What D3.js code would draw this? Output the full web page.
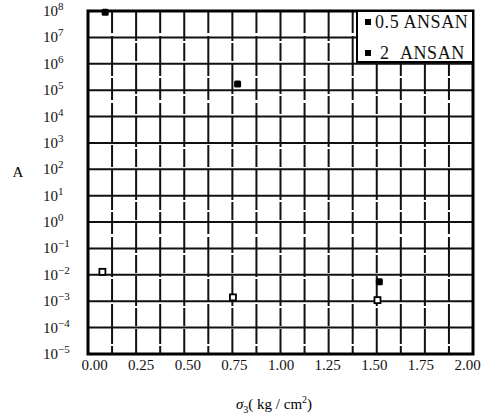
<!DOCTYPE html>
<html>
<head>
<meta charset="utf-8">
<script src="https://cdn.jsdelivr.net/npm/d3@7"></script>
<style>
  body { margin: 0; background: #fff; }
  svg { display: block; font-family: "Liberation Serif", "DejaVu Serif", serif; }
</style>
</head>
<body>
<svg id="chart" width="493" height="417"></svg>
<script>
// data
const xTicks = [0, 0.25, 0.5, 0.75, 1.0, 1.25, 1.5, 1.75, 2.0];
const yExponents = [8, 7, 6, 5, 4, 3, 2, 1, 0, -1, -2, -3, -4, -5];
const seriesNames = ['0.5 ANSAN', '\u00a02\u00a0\u00a0ANSAN'];
const sigmaHalf = [0.06, 0.77, 1.53];
const valuesHalf = [9e7, 1.7e5, 5.5e-3];
const sigmaTwo = [0.045, 0.745, 1.52];
const valuesTwo = [1.3e-2, 1.4e-3, 1.1e-3];

const svg = d3.select('#chart');
const plotLeft = 88, plotRight = 473, plotTop = 11, plotBottom = 354;

const x = d3.scaleLinear().domain([0, 2]).range([94, 467]);
const y = d3.scaleLog().domain([1e-5, 1e8]).range([plotBottom, plotTop]);
// the printed grid has 16 columns that do not line up with the tick labels
const gridX = d3.scaleLinear().domain([0, 16]).range([plotLeft, plotRight]);

const g = svg.append('g');

// vertical grid
g.selectAll('.vgrid')
  .data(d3.range(1, 16))
  .join('line')
  .attr('class', 'vgrid')
  .attr('x1', d => gridX(d)).attr('x2', d => gridX(d))
  .attr('y1', plotTop).attr('y2', plotBottom)
  .attr('stroke', '#111').attr('stroke-width', 2)
  .attr('stroke-dasharray', (d, i) => i % 2 ? '30,2,18,3' : '22,3,40,2');

// horizontal grid
g.selectAll('.hgrid')
  .data(yExponents.slice(1, -1))
  .join('line')
  .attr('class', 'hgrid')
  .attr('x1', plotLeft).attr('x2', plotRight)
  .attr('y1', d => y(Math.pow(10, d))).attr('y2', d => y(Math.pow(10, d)))
  .attr('stroke', '#111').attr('stroke-width', 2);

// frame
g.append('rect')
  .attr('x', plotLeft).attr('y', plotTop)
  .attr('width', plotRight - plotLeft).attr('height', plotBottom - plotTop)
  .attr('fill', 'none').attr('stroke', '#000').attr('stroke-width', 3);

// y axis labels (10 with superscript)
const yLab = svg.selectAll('.ylab')
  .data(yExponents)
  .join('text')
  .attr('class', 'ylab')
  .attr('x', 43)
  .attr('y', d => y(Math.pow(10, d)) + 5)
  .attr('font-size', 15)
  .attr('fill', '#111');
yLab.append('tspan').text('10');
yLab.append('tspan')
  .attr('dy', -6)
  .attr('font-size', 11)
  .text(d => d < 0 ? '\u2212' + (-d) : d);

// x axis
const xAxis = d3.axisBottom(x)
  .tickValues(xTicks)
  .tickSize(0)
  .tickPadding(0)
  .tickFormat(d3.format('.2f'));
const xg = svg.append('g')
  .attr('transform', `translate(0,${plotBottom + 5})`)
  .call(xAxis);
xg.select('.domain').remove();
xg.selectAll('text')
  .attr('font-family', '"Liberation Serif", serif')
  .attr('font-size', 15)
  .attr('fill', '#111');

// axis titles
svg.append('text')
  .attr('x', 18).attr('y', 177)
  .attr('text-anchor', 'middle')
  .attr('font-size', 15)
  .text('A');

const xt = svg.append('text')
  .attr('x', 274).attr('y', 409)
  .attr('text-anchor', 'middle')
  .attr('font-size', 15);
xt.append('tspan').attr('font-style', 'italic').text('σ');
xt.append('tspan').attr('dy', 4).attr('font-size', 10).text('3');
xt.append('tspan').attr('dy', -4).text('( kg / cm');
xt.append('tspan').attr('dy', -6).attr('font-size', 10).text('2');
xt.append('tspan').attr('dy', 6).text(')');

// data marks
svg.selectAll('.half')
  .data(sigmaHalf)
  .join('rect')
  .attr('class', 'half')
  .attr('x', d => x(d) - 3.5)
  .attr('y', (d, i) => y(valuesHalf[i]) - 3.5)
  .attr('width', 7).attr('height', 7)
  .attr('rx', 1.5)
  .attr('fill', '#000');

svg.selectAll('.two')
  .data(sigmaTwo)
  .join('rect')
  .attr('class', 'two')
  .attr('x', d => x(d) - 3)
  .attr('y', (d, i) => y(valuesTwo[i]) - 3)
  .attr('width', 6).attr('height', 6)
  .attr('fill', '#fff')
  .attr('stroke', '#000').attr('stroke-width', 1.8);

// legend
const lg = svg.append('g');
lg.append('rect')
  .attr('x', 357).attr('y', plotTop)
  .attr('width', plotRight - 357).attr('height', 51)
  .attr('fill', '#fff').attr('stroke', '#000').attr('stroke-width', 2);
const item = lg.selectAll('.item')
  .data(seriesNames)
  .join('g')
  .attr('class', 'item')
  .attr('transform', (d, i) => `translate(0,${22 + i * 31})`);
item.append('rect')
  .attr('x', 365).attr('y', -3)
  .attr('width', 6).attr('height', 6)
  .attr('fill', '#000');
item.append('text')
  .attr('x', 375).attr('y', 6)
  .attr('font-size', 18)
  .attr('letter-spacing', 0.6)
  .attr('fill', '#111')
  .text(d => d);
</script>
</body>
</html>
